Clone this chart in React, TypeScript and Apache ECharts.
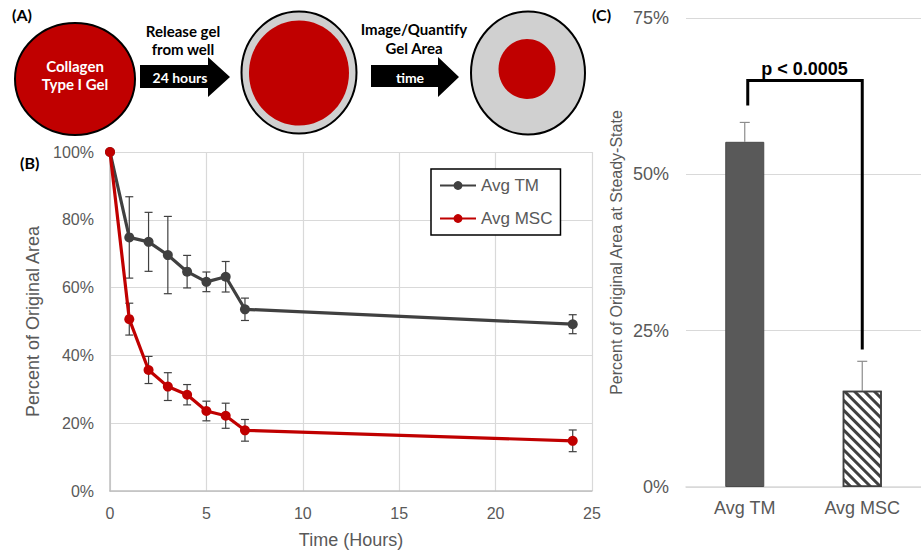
import React, { useEffect, useRef } from "react";
import * as echarts from "echarts";

// ---- Panel B data (time course) ----
const timeHours = [0, 1, 2, 3, 4, 5, 6, 7, 24];
const tmMean = [100, 74.8, 73.5, 69.6, 64.7, 61.7, 63.2, 53.6, 49.2];
const tmErr = [0, 12, 8.7, 11.4, 4.8, 2.9, 4.5, 3.3, 2.8];
const mscMean = [100, 50.7, 35.7, 30.8, 28.4, 23.6, 22.2, 17.9, 14.8];
const mscErr = [0, 4.7, 4.0, 4.1, 3.0, 2.9, 3.7, 3.2, 3.2];
const xTicks = [0, 5, 10, 15, 20, 25];

// ---- Panel C data (steady state) ----
const barCategories = ["Avg TM", "Avg MSC"];
const barMeans = [55.2, 15.4];
const barErr = [3.1, 4.7];
const pValueText = "p < 0.0005";
const bracketLevels = [61, 65, 22]; // left leg bottom, top, right leg bottom (%)

const FONT = '"Liberation Sans", Arial, sans-serif';
const DIA = 'Lato, "Open Sans", sans-serif';

export default function App() {
  const ref = useRef<HTMLDivElement>(null);
  useEffect(() => {
    if (!ref.current) return;
    const chart = echarts.init(ref.current, null, { renderer: "svg" });

    const tmErrData = timeHours.map((t, i) => [t, tmMean[i] - tmErr[i], tmMean[i] + tmErr[i]]);
    const mscErrData = timeHours.map((t, i) => [t, mscMean[i] - mscErr[i], mscMean[i] + mscErr[i]]);
    const tmLine = timeHours.map((t, i) => [t, tmMean[i]]);
    const mscLine = timeHours.map((t, i) => [t, mscMean[i]]);

    const errRender = (color: string, cap: number, lw: number, upOnly: boolean) =>
      (params: any, api: any) => {
        const x = api.value(0);
        const lo = api.value(1);
        const hi = api.value(2);
        if (hi - lo <= 0.001) return { type: "group", children: [] };
        const pt = api.coord([x, hi]);
        const pb = api.coord([x, lo]);
        const st = { stroke: color, lineWidth: lw };
        const children: any[] = [
          { type: "line", shape: { x1: pt[0], y1: pt[1], x2: pb[0], y2: pb[1] }, style: st },
          { type: "line", shape: { x1: pt[0] - cap, y1: pt[1], x2: pt[0] + cap, y2: pt[1] }, style: st },
        ];
        if (!upOnly)
          children.push({ type: "line", shape: { x1: pb[0] - cap, y1: pb[1], x2: pb[0] + cap, y2: pb[1] }, style: st });
        return { type: "group", children };
      };

    const barErrData = barCategories.map((c, i) => [i, barMeans[i], barMeans[i] + barErr[i]]);

    const option: any = {
      animation: false,
      backgroundColor: "#fff",
      textStyle: { fontFamily: FONT },
      legend: {
        data: ["Avg TM", "Avg MSC"],
        orient: "vertical",
        left: 431,
        top: 169,
        backgroundColor: "#fff",
        borderColor: "#000",
        borderWidth: 1.5,
        borderRadius: 0,
        padding: [8, 8, 8, 8],
        itemGap: 16,
        itemWidth: 36,
        itemHeight: 11,
        textStyle: { fontSize: 17, color: "#595959", fontFamily: FONT },
      },
      grid: [
        { left: 110, top: 152, width: 482, height: 339, containLabel: false },
        { left: 686, top: 18, width: 244, height: 469, containLabel: false },
      ],
      xAxis: [
        {
          gridIndex: 0,
          type: "value",
          min: 0,
          max: 25,
          interval: 5,
          name: "Time (Hours)",
          nameLocation: "middle",
          nameGap: 40,
          nameTextStyle: { fontSize: 18, color: "#595959", fontFamily: FONT },
          axisLine: { show: true, lineStyle: { color: "#bfbfbf", width: 1.5 } },
          axisTick: { show: false },
          axisLabel: { fontSize: 16, color: "#595959", margin: 14, fontFamily: FONT,
            formatter: (v: number) => (xTicks.includes(v) ? String(v) : "") },
          splitLine: { show: true, lineStyle: { color: "#d9d9d9", width: 1.2 } },
        },
        {
          gridIndex: 1,
          type: "category",
          data: barCategories,
          axisLine: { show: true, lineStyle: { color: "#d9d9d9", width: 1.5 } },
          axisTick: { show: false },
          axisLabel: { fontSize: 18, color: "#595959", margin: 12, fontFamily: FONT },
          splitLine: { show: false },
        },
      ],
      yAxis: [
        {
          gridIndex: 0,
          type: "value",
          min: 0,
          max: 100,
          interval: 20,
          name: "Percent of Original Area",
          nameLocation: "middle",
          nameGap: 66,
          nameTextStyle: { fontSize: 18, color: "#595959", fontFamily: FONT },
          axisLine: { show: true, lineStyle: { color: "#bfbfbf", width: 1.5 } },
          axisTick: { show: false },
          axisLabel: { fontSize: 16, color: "#595959", margin: 16, formatter: "{value}%", fontFamily: FONT },
          splitLine: { show: true, lineStyle: { color: "#d9d9d9", width: 1.2 } },
        },
        {
          gridIndex: 1,
          type: "value",
          min: 0,
          max: 75,
          interval: 25,
          name: "Percent of Original Area at Steady-State",
          nameLocation: "middle",
          nameGap: 62,
          nameTextStyle: { fontSize: 16, color: "#595959", fontFamily: FONT },
          axisLine: { show: false },
          axisTick: { show: false },
          axisLabel: { fontSize: 18, color: "#595959", margin: 17, formatter: "{value}%", fontFamily: FONT },
          splitLine: { show: true, lineStyle: { color: "#d9d9d9", width: 1.2 } },
        },
      ],
      series: [
        {
          type: "custom",
          name: "tmErr",
          xAxisIndex: 0,
          yAxisIndex: 0,
          data: tmErrData,
          encode: { x: 0, y: [1, 2] },
          renderItem: errRender("#404040", 4, 1.2, false),
          z: 2,
          clip: false,
        },
        {
          type: "custom",
          name: "mscErr",
          xAxisIndex: 0,
          yAxisIndex: 0,
          data: mscErrData,
          encode: { x: 0, y: [1, 2] },
          renderItem: errRender("#404040", 4, 1.2, false),
          z: 2,
          clip: false,
        },
        {
          type: "line",
          name: "Avg TM",
          xAxisIndex: 0,
          yAxisIndex: 0,
          data: tmLine,
          symbol: "circle",
          symbolSize: 10,
          clip: false,
          itemStyle: { color: "#404040" },
          lineStyle: { color: "#404040", width: 3.2 },
          z: 3,
        },
        {
          type: "line",
          name: "Avg MSC",
          xAxisIndex: 0,
          yAxisIndex: 0,
          data: mscLine,
          symbol: "circle",
          symbolSize: 10,
          clip: false,
          itemStyle: { color: "#c00000" },
          lineStyle: { color: "#c00000", width: 3.2 },
          z: 4,
        },
        {
          type: "bar",
          name: "steady",
          xAxisIndex: 1,
          yAxisIndex: 1,
          barWidth: 39,
          data: [
            { value: barMeans[0], itemStyle: { color: "#595959", borderColor: "#4a4a4a", borderWidth: 1 } },
            {
              value: barMeans[1],
              itemStyle: {
                color: "#ffffff",
                borderColor: "#404040",
                borderWidth: 1.5,
                decal: {
                  symbol: "rect",
                  symbolSize: 1,
                  dashArrayX: [1, 0],
                  dashArrayY: [2.5, 3.3],
                  rotation: Math.PI / 4,
                  color: "#404040",
                  backgroundColor: "#ffffff",
                },
              },
            },
          ],
          z: 2,
        },
        {
          type: "custom",
          name: "barErr",
          xAxisIndex: 1,
          yAxisIndex: 1,
          data: barErrData,
          encode: { x: 0, y: [1, 2] },
          renderItem: errRender("#8c8c8c", 5, 1.2, true),
          z: 1,
          clip: false,
        },
        {
          type: "custom",
          name: "bracket",
          xAxisIndex: 1,
          yAxisIndex: 1,
          data: [[0, bracketLevels[0], bracketLevels[1], bracketLevels[2]]],
          encode: { x: 0, y: [1, 2, 3] },
          clip: false,
          z: 5,
          renderItem: (params: any, api: any) => {
            const a = api.coord([0, api.value(1)]);
            const b = api.coord([0, api.value(2)]);
            const c = api.coord([1, api.value(2)]);
            const d = api.coord([1, api.value(3)]);
            const off = 3;
            return {
              type: "group",
              children: [
                {
                  type: "polyline",
                  shape: { points: [[a[0] + off, a[1]], [b[0] + off, b[1]], [c[0], c[1]], [d[0], d[1]]] },
                  style: { stroke: "#000", lineWidth: 3, fill: null },
                },
                {
                  type: "text",
                  style: {
                    text: pValueText,
                    x: (b[0] + c[0]) / 2 + 1,
                    y: b[1] - 3,
                    align: "center",
                    verticalAlign: "bottom",
                    fontSize: 18,
                    fontWeight: "bold",
                    fontFamily: FONT,
                    fill: "#000",
                  },
                },
              ],
            };
          },
        },
      ],
      graphic: [
        // panel labels
        { type: "text", left: 12, top: 6, style: { text: "(A)", fontSize: 16, fontWeight: "bold", fontFamily: DIA, fill: "#000" } },
        { type: "text", left: 20, top: 154, style: { text: "(B)", fontSize: 16, fontWeight: "bold", fontFamily: DIA, fill: "#000" } },
        { type: "text", left: 592, top: 6, style: { text: "(C)", fontSize: 16, fontWeight: "bold", fontFamily: DIA, fill: "#000" } },
        // gel 1
        { type: "ellipse", shape: { cx: 75, cy: 79, rx: 60, ry: 56 }, style: { fill: "#c00000", stroke: "#000", lineWidth: 2 } },
        { type: "text", x: 75, y: 66, style: { text: "Collagen", align: "center", verticalAlign: "middle", fontSize: 15, fontWeight: "bold", fontFamily: DIA, fill: "#fff" } },
        { type: "text", x: 75, y: 84, style: { text: "Type I Gel", align: "center", verticalAlign: "middle", fontSize: 15, fontWeight: "bold", fontFamily: DIA, fill: "#fff" } },
        // arrow 1
        { type: "polygon", shape: { points: [[140, 65], [208, 65], [208, 57], [230, 77], [208, 97], [208, 88], [140, 88]] }, style: { fill: "#000" } },
        { type: "text", x: 183, y: 31, style: { text: "Release gel", align: "center", verticalAlign: "middle", fontSize: 15, fontWeight: "bold", fontFamily: DIA, fill: "#000" } },
        { type: "text", x: 183, y: 49, style: { text: "from well", align: "center", verticalAlign: "middle", fontSize: 15, fontWeight: "bold", fontFamily: DIA, fill: "#000" } },
        { type: "text", x: 180, y: 77, style: { text: "24 hours", align: "center", verticalAlign: "middle", fontSize: 14, fontWeight: "bold", fontFamily: DIA, fill: "#fff" } },
        // gel 2
        { type: "ellipse", shape: { cx: 299, cy: 72.5, rx: 57.5, ry: 61 }, style: { fill: "#d0d0d0", stroke: "#000", lineWidth: 2 } },
        { type: "ellipse", shape: { cx: 299, cy: 73, rx: 50, ry: 52.5 }, style: { fill: "#c00000" } },
        // arrow 2
        { type: "polygon", shape: { points: [[371, 65], [438, 65], [438, 57], [459, 77], [438, 97], [438, 87], [371, 87]] }, style: { fill: "#000" } },
        { type: "text", x: 414, y: 29, style: { text: "Image/Quantify", align: "center", verticalAlign: "middle", fontSize: 15, fontWeight: "bold", fontFamily: DIA, fill: "#000" } },
        { type: "text", x: 414, y: 48, style: { text: "Gel Area", align: "center", verticalAlign: "middle", fontSize: 15, fontWeight: "bold", fontFamily: DIA, fill: "#000" } },
        { type: "text", x: 410, y: 77, style: { text: "time", align: "center", verticalAlign: "middle", fontSize: 14, fontWeight: "bold", fontFamily: DIA, fill: "#fff" } },
        // gel 3
        { type: "ellipse", shape: { cx: 528, cy: 73, rx: 57, ry: 61.5 }, style: { fill: "#d0d0d0", stroke: "#000", lineWidth: 2 } },
        { type: "ellipse", shape: { cx: 527, cy: 69, rx: 28.5, ry: 30 }, style: { fill: "#c00000" } },
      ],
    };

    chart.setOption(option);
    return () => chart.dispose();
  }, []);

  return (
    <div
      ref={ref}
      style={{ position: "fixed", left: 0, top: 0, width: 921, height: 556, background: "#fff" }}
    />
  );
}
